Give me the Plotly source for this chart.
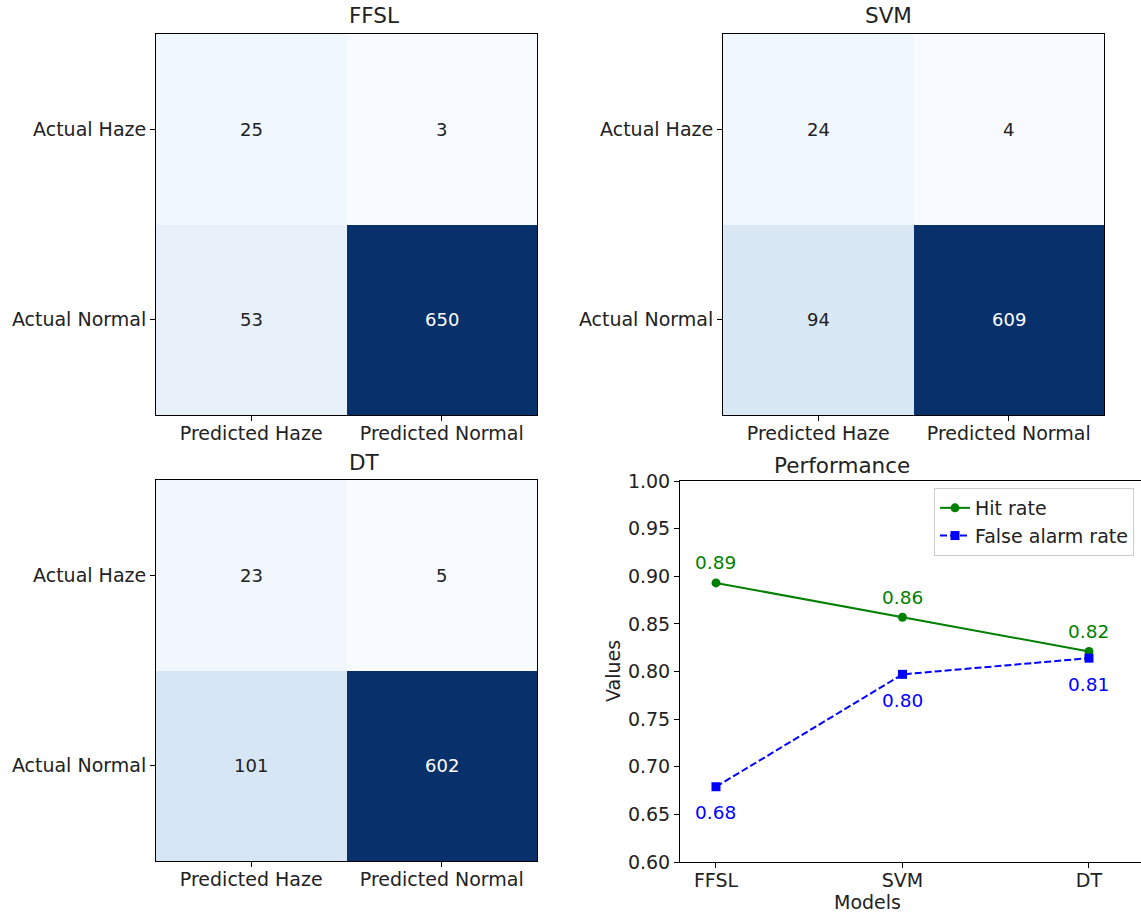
import plotly.graph_objects as go

W, H = 1141, 914

# ---- data -------------------------------------------------------------
actual_labels = ["Actual Haze", "Actual Normal"]
predicted_labels = ["Predicted Haze", "Predicted Normal"]

ffsl_cm = [[25, 3], [53, 650]]
svm_cm = [[24, 4], [94, 609]]
dt_cm = [[23, 5], [101, 602]]

models = ["FFSL", "SVM", "DT"]
hit_rate = [0.893, 0.857, 0.821]
false_alarm_rate = [0.679, 0.797, 0.814]

# matplotlib "Blues"
blues = [
    [0.000, "#f7fbff"], [0.125, "#deebf7"], [0.250, "#c6dbef"],
    [0.375, "#9ecae1"], [0.500, "#6baed6"], [0.625, "#4292c6"],
    [0.750, "#2171b5"], [0.875, "#08519c"], [1.000, "#08306b"],
]

FONT = "DejaVu Sans"
TICK = 19
TITLE = 21.5


def fx(p):
    return p / W


def fy(p):
    return 1 - p / H


fig = go.Figure()
annotations = []
layout = {}

# confusion-matrix panels: (title, matrix, axis suffix, x px span, y px span)
panels = [
    ("FFSL", ffsl_cm, "", (156, 537), (34, 415)),
    ("SVM", svm_cm, "2", (723, 1104), (34, 415)),
    ("DT", dt_cm, "3", (156, 537), (480, 861)),
]

for title, cm, sfx, (x0, x1), (y0, y1) in panels:
    flat = [v for row in cm for v in row]
    lo, hi = min(flat), max(flat)
    xa, ya = "x" + sfx, "y" + sfx
    fig.add_trace(go.Heatmap(
        z=cm, x=[0, 1], y=[0, 1], colorscale=blues, zmin=lo, zmax=hi,
        showscale=False, xaxis=xa, yaxis=ya, hoverinfo="skip",
    ))
    layout["xaxis" + sfx] = dict(
        domain=[fx(x0), fx(x1)], anchor=ya, range=[-0.5, 1.5],
        tickvals=[0, 1], ticktext=predicted_labels, ticks="outside",
        ticklen=5, tickcolor="black", showline=True, mirror=True,
        linecolor="black", linewidth=1, showgrid=False, zeroline=False,
        automargin=False, ticklabelstandoff=-4,
        tickfont=dict(family=FONT, size=TICK, color="#222"),
    )
    layout["yaxis" + sfx] = dict(
        domain=[fy(y1), fy(y0)], anchor=xa, range=[1.5, -0.5],
        tickvals=[0, 1], ticktext=actual_labels, ticks="outside",
        ticklen=5, tickcolor="black", showline=True, mirror=True,
        linecolor="black", linewidth=1, showgrid=False, zeroline=False,
        automargin=False,
        tickfont=dict(family=FONT, size=TICK, color="#222"),
    )
    thresh = (lo + hi) / 2
    for i, row in enumerate(cm):
        for j, v in enumerate(row):
            annotations.append(dict(
                x=j, y=i, xref=xa, yref=ya, text=str(v), showarrow=False,
                font=dict(family=FONT, size=18,
                          color="white" if v > thresh else "#222"),
            ))
    annotations.append(dict(
        x=fx((x0 + x1) / 2), y=fy(y0 - 18), xref="paper", yref="paper",
        text=title, showarrow=False, yanchor="middle",
        font=dict(family=FONT, size=TITLE, color="#222"),
    ))

# ---- performance line chart -----------------------------------------
fig.add_trace(go.Scatter(
    x=models, y=hit_rate, name="Hit rate", mode="lines+markers",
    line=dict(color="green", width=2),
    marker=dict(symbol="circle", size=9, color="green"),
    xaxis="x4", yaxis="y4", hoverinfo="skip",
))
fig.add_trace(go.Scatter(
    x=models, y=false_alarm_rate, name="False alarm rate",
    mode="lines+markers",
    line=dict(color="blue", width=2, dash="7px,3px"),
    marker=dict(symbol="square", size=9, color="blue"),
    xaxis="x4", yaxis="y4", hoverinfo="skip",
))

for m, v in zip(models, hit_rate):
    annotations.append(dict(
        x=m, y=v, xref="x4", yref="y4", text=f"{v:.2f}", showarrow=False,
        yshift=20, font=dict(family=FONT, size=18.5, color="green"),
    ))
for m, v in zip(models, false_alarm_rate):
    annotations.append(dict(
        x=m, y=v, xref="x4", yref="y4", text=f"{v:.2f}", showarrow=False,
        yshift=-26, font=dict(family=FONT, size=18.5, color="blue"),
    ))

layout["xaxis4"] = dict(
    domain=[fx(680), 1.0], anchor="y4", type="category",
    range=[-0.193, 2.279], ticks="outside", ticklen=5, tickcolor="black",
    showline=True, mirror=True, linecolor="black", linewidth=1,
    showgrid=False, zeroline=False, automargin=False, ticklabelstandoff=-4,
    tickfont=dict(family=FONT, size=TICK, color="#222"),
)
layout["yaxis4"] = dict(
    domain=[fy(862), fy(481)], anchor="x4", range=[0.6, 1.0],
    tickvals=[0.60, 0.65, 0.70, 0.75, 0.80, 0.85, 0.90, 0.95, 1.00],
    tickformat=".2f", ticks="outside", ticklen=5, tickcolor="black",
    showline=True, mirror=False, linecolor="black", linewidth=1,
    showgrid=False, zeroline=False, automargin=False,
    tickfont=dict(family=FONT, size=TICK, color="#222"),
)

annotations.append(dict(
    x=fx(912), y=fy(465), xref="paper", yref="paper", text="Performance",
    showarrow=False, yanchor="middle",
    font=dict(family=FONT, size=TITLE, color="#222"),
))
annotations.append(dict(
    x=fx(903), y=fy(902), xref="paper", yref="paper", text="Models",
    showarrow=False, yanchor="middle",
    font=dict(family=FONT, size=TICK, color="#222"),
))
annotations.append(dict(
    x=fx(613), y=fy(671), xref="paper", yref="paper", text="Values",
    showarrow=False, textangle=-90, xanchor="center", yanchor="middle",
    font=dict(family=FONT, size=TICK, color="#222"),
))

fig.update_layout(
    width=W, height=H, autosize=False,
    margin=dict(l=0, r=0, t=0, b=0, pad=0, autoexpand=False),
    paper_bgcolor="white", plot_bgcolor="white",
    font=dict(family=FONT, color="#222"),
    showlegend=True,
    legend=dict(
        x=fx(1134), xanchor="right", y=fy(488), yanchor="top",
        bordercolor="#cccccc", borderwidth=1, bgcolor="rgba(255,255,255,0.8)",
        font=dict(family=FONT, size=TICK, color="#222"),
        tracegroupgap=0,
    ),
    annotations=annotations,
    **layout,
)

fig.write_html("out.html")
